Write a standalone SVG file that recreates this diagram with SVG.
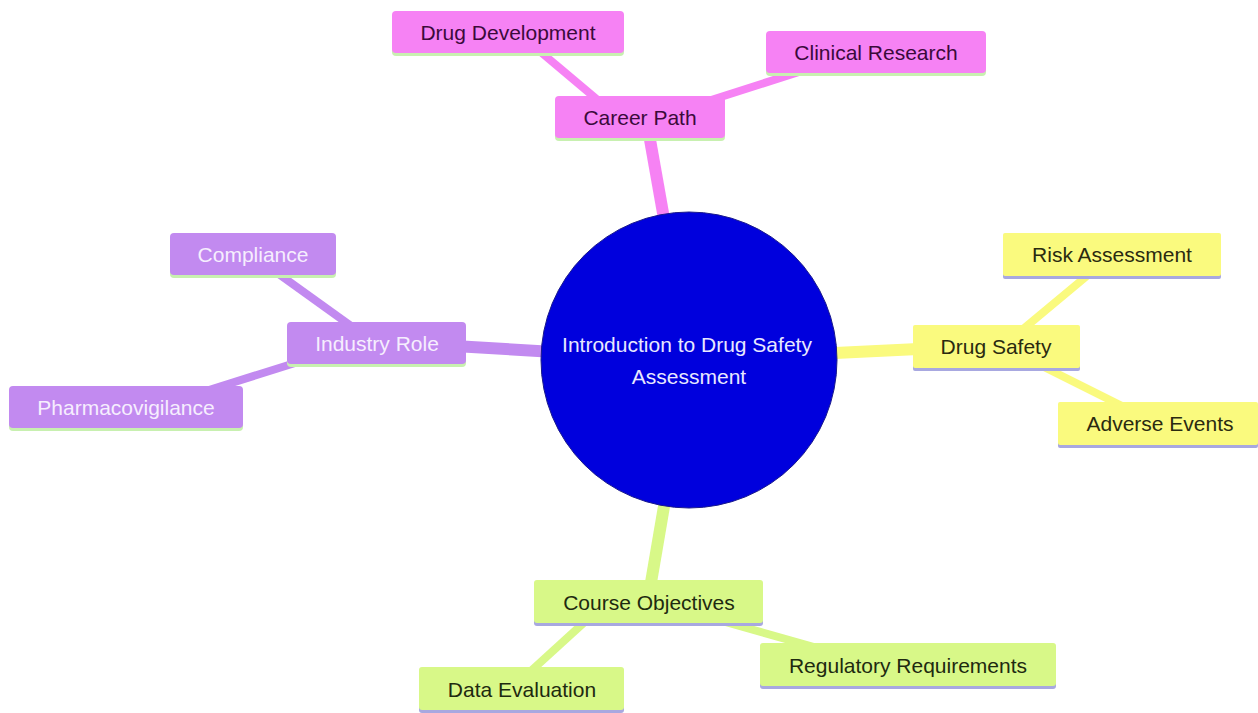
<svg xmlns="http://www.w3.org/2000/svg" width="1258" height="713" viewBox="0 0 1258 713">
<style>
text{font-family:"Liberation Sans",Arial,sans-serif;font-size:21px;text-anchor:middle;dominant-baseline:central}
.pk rect.b{fill:#f682f4}.pk text{fill:#3b0a3b}
.pu rect.b{fill:#c28af0}.pu text{fill:#f6eefe}
.ye rect.b{fill:#fafa7e}.ye text{fill:#2a2a10}
.gr rect.b{fill:#d8f888}.gr text{fill:#1e2a10}
.lg{fill:#c8f0b0}.lv{fill:#a8a8e0}
.c line{stroke-linecap:butt}
</style>
<rect width="1258" height="713" fill="#ffffff"/>
<g id="connectors" class="c">
<line x1="689" y1="360" x2="646" y2="117" stroke="#f682f4" stroke-width="12"/>
<line x1="530" y1="43" x2="612" y2="112" stroke="#f682f4" stroke-width="8"/>
<line x1="680" y1="110" x2="830" y2="62" stroke="#f682f4" stroke-width="8"/>
<line x1="689" y1="360" x2="420" y2="344" stroke="#c28af0" stroke-width="12"/>
<line x1="262" y1="262" x2="365" y2="336" stroke="#c28af0" stroke-width="8"/>
<line x1="330" y1="352" x2="190" y2="396" stroke="#c28af0" stroke-width="8"/>
<line x1="689" y1="360" x2="960" y2="347" stroke="#fafa7e" stroke-width="12"/>
<line x1="1010" y1="340" x2="1100" y2="265" stroke="#fafa7e" stroke-width="8"/>
<line x1="1020" y1="355" x2="1140" y2="415" stroke="#fafa7e" stroke-width="8"/>
<line x1="689" y1="360" x2="648" y2="600" stroke="#d8f888" stroke-width="12"/>
<line x1="600" y1="608" x2="510" y2="690" stroke="#d8f888" stroke-width="8"/>
<line x1="690" y1="612" x2="860" y2="660" stroke="#d8f888" stroke-width="8"/>
</g>
<g id="n-center">
<circle cx="689" cy="360" r="148" fill="#0000dd" stroke="#1a1a8c" stroke-width="1"/>
<text x="687" y="344" fill="#e8e8ff">Introduction to Drug Safety</text>
<text x="689" y="376" fill="#e8e8ff">Assessment</text>
</g>
<g id="n-career" class="pk"><rect class="lg" x="555" y="99" width="170" height="42" rx="4"/><rect class="b" x="555" y="96" width="170" height="42" rx="4"/><text x="640" y="117">Career Path</text></g>
<g id="n-drugdev" class="pk"><rect class="lg" x="392" y="14" width="232" height="42" rx="4"/><rect class="b" x="392" y="11" width="232" height="42" rx="4"/><text x="508" y="32">Drug Development</text></g>
<g id="n-clinical" class="pk"><rect class="lg" x="766" y="34" width="220" height="42" rx="4"/><rect class="b" x="766" y="31" width="220" height="42" rx="4"/><text x="876" y="52">Clinical Research</text></g>
<g id="n-industry" class="pu"><rect class="lg" x="287" y="325" width="179" height="42" rx="4"/><rect class="b" x="287" y="322" width="179" height="42" rx="4"/><text x="377" y="343">Industry Role</text></g>
<g id="n-compliance" class="pu"><rect class="lg" x="170" y="236" width="166" height="42" rx="4"/><rect class="b" x="170" y="233" width="166" height="42" rx="4"/><text x="253" y="254">Compliance</text></g>
<g id="n-pharma" class="pu"><rect class="lg" x="9" y="389" width="234" height="42" rx="4"/><rect class="b" x="9" y="386" width="234" height="42" rx="4"/><text x="126" y="407">Pharmacovigilance</text></g>
<g id="n-drugsafety" class="ye"><rect class="lv" x="913" y="328" width="167" height="43" rx="2"/><rect class="b" x="913" y="325" width="167" height="43" rx="2"/><text x="996" y="346">Drug Safety</text></g>
<g id="n-risk" class="ye"><rect class="lv" x="1003" y="236" width="218" height="43" rx="2"/><rect class="b" x="1003" y="233" width="218" height="43" rx="2"/><text x="1112" y="254">Risk Assessment</text></g>
<g id="n-adverse" class="ye"><rect class="lv" x="1058" y="405" width="200" height="43" rx="2"/><rect class="b" x="1058" y="402" width="200" height="43" rx="2"/><text x="1160" y="423">Adverse Events</text></g>
<g id="n-course" class="gr"><rect class="lv" x="534" y="583" width="229" height="43" rx="3"/><rect class="b" x="534" y="580" width="229" height="43" rx="3"/><text x="649" y="602">Course Objectives</text></g>
<g id="n-data" class="gr"><rect class="lv" x="419" y="670" width="205" height="43" rx="3"/><rect class="b" x="419" y="667" width="205" height="43" rx="3"/><text x="522" y="689">Data Evaluation</text></g>
<g id="n-reg" class="gr"><rect class="lv" x="760" y="646" width="296" height="43" rx="3"/><rect class="b" x="760" y="643" width="296" height="43" rx="3"/><text x="908" y="665">Regulatory Requirements</text></g>
</svg>
